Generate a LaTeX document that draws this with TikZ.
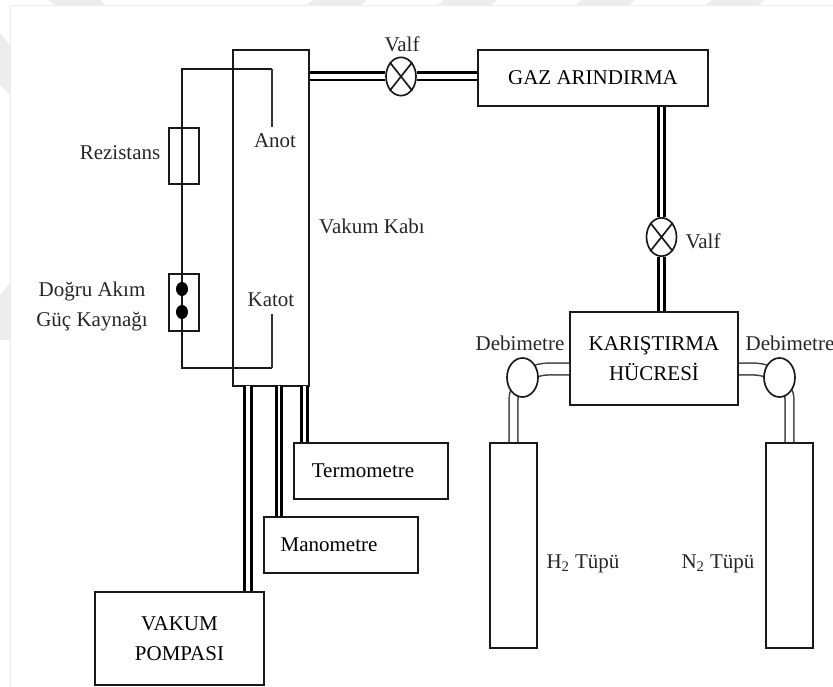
\documentclass[tikz,border=0pt]{standalone}
\usepackage{fontspec}
\setmainfont{Liberation Serif}
\usetikzlibrary{shapes.geometric}

\tikzset{
  box/.style={draw=black!90, line width=1.2pt, inner sep=0pt, align=center},
  valve/.style={draw=black!90, line width=1pt, ellipse, inner sep=0pt, fill=white},
  dot/.style={fill=black, ellipse, inner sep=0pt, minimum width=7.2pt, minimum height=8.4pt},
  label/.style={inner sep=4pt, align=center, text=black!85},
  wire/.style={draw=black!90, line width=1pt},
  lead/.style={draw=black!80, line width=.7pt},
  pipe/.style={draw=black, double=white, line width=1.6pt, double distance=#1},
  pipe/.default=1.7pt,
  tubing/.style={draw=black!75, double=white, line width=.9pt, double distance=#1},
}

\begin{document}
\begin{tikzpicture}[x=0.6pt, y=-0.6pt,
  every node/.style={font=\fontsize{12.6}{18}\selectfont}]

\useasboundingbox (0,0) rectangle (833,687);

% Watermark and page edge
\fill[black!7] (48,0) -- (100,0) -- (107,6) -- (55,6) -- cycle
  (313,0) -- (367,0) -- (360,6) -- (305,6) -- cycle
  (444,0) -- (497,0) -- (490,6) -- (436,6) -- cycle
  (582,0) -- (635,0) -- (628,6) -- (574,6) -- cycle
  (712,0) -- (765,0) -- (758,6) -- (704,6) -- cycle
  (0,33) -- (10,45) -- (10,95) -- (0,85) -- cycle
  (10,283) -- (0,295) -- (0,340) -- (10,340) -- cycle;
\draw[black!7, line width=.6pt] (833,6) -- (10,6) -- (10,687);

% Boxes
\node[box, minimum width=45.6pt, minimum height=201.6pt] (vessel) at (271,218) {};
\node[box, minimum width=18pt, minimum height=33.6pt] (resistor) at (184,156) {};
\node[box, minimum width=18pt, minimum height=34.2pt] (supply) at (184,302.5) {};
\node[box, minimum width=138pt, minimum height=33.6pt] (purifier) at (593,78) {GAZ ARINDIRMA};
\node[box, minimum width=100.8pt, minimum height=55.8pt] (mixer) at (654,358.5) {KARIŞTIRMA\\HÜCRESİ};
\node[box, minimum width=28.2pt, minimum height=123pt] (tubeH) at (513.5,545.5) {};
\node[box, minimum width=28.2pt, minimum height=123pt] (tubeN) at (789.5,545.5) {};
\node[box, minimum width=92.4pt, minimum height=33.6pt] (thermo) at (371,471) {Termometre\hspace{9.6pt}};
\node[box, minimum width=92.4pt, minimum height=33.6pt] (mano) at (341,545) {Manometre\hspace{14.4pt}};
\node[box, minimum width=101.4pt, minimum height=55.8pt] (pump) at (179.5,638.5) {VAKUM\\POMPASI};

% Valves
\node[valve, minimum width=18pt, minimum height=23pt] (valveA) at (401,76.5) {};
\node[valve, minimum width=18pt, minimum height=23pt] (valveB) at (661.5,237) {};
\draw[wire] (valveA.north west) -- (valveA.south east) (valveA.north east) -- (valveA.south west);
\draw[wire] (valveB.north west) -- (valveB.south east) (valveB.north east) -- (valveB.south west);

% Labels
\node[label] (valfA) at (402,44) {Valf};
\node[label] (valfB) at (703,241) {Valf};
\node[label] (anot) at (275,141) {Anot};
\node[label] (katot) at (271,300) {Katot};
\node[label] (rezistans) at (120,153) {Rezistans};
\node[label] (kaynak) at (92,306) {Doğru Akım\\Güç Kaynağı};
\node[label] (kap) at (372,226) {Vakum Kabı};
\node[label] (debiLtext) at (520,343) {Debimetre};
\node[label] (debiRtext) at (790,343) {Debimetre};
\node[label] (textH) at (583,564) {H\textsubscript{2} Tüpü};
\node[label] (textN) at (718,564) {N\textsubscript{2} Tüpü};

% Electric circuit
\coordinate (anotTip) at (272,69);
\coordinate (katotTip) at (272,368);
\coordinate (wireTop) at (182,69);
\coordinate (wireLow) at (182,368);
\draw[wire] (anotTip) -- (wireTop) -- (wireLow) -- (katotTip);
\draw[lead] (anotTip) -- (anotTip |- anot.north);
\draw[lead] (katotTip) -- (katotTip |- katot.south);
\node[dot] (poleA) at (182,289) {};
\node[dot] (poleB) at (182,312) {};

% Thick pipes
\draw[pipe=2.8pt] (valveA.west) -- (vessel.east |- valveA.west);
\draw[pipe=2.8pt] (valveA.east) -- (purifier.west |- valveA.east);
\draw[pipe] (valveB.north) -- (valveB.north |- purifier.south);
\draw[pipe] (valveB.south) -- (valveB.south |- mixer.north);

% Pipes under the vessel
\coordinate (pumpTop) at (248,386);
\coordinate (manoTop) at (279,386);
\coordinate (thermoTop) at (304.5,386);
\draw[pipe=2.4pt] (pumpTop) -- (pumpTop |- pump.north);
\draw[pipe] (manoTop) -- (manoTop |- mano.north);
\draw[pipe] (thermoTop) -- (thermoTop |- thermo.north);

% Flow meters and their tubing
\coordinate (debiL) at (522.5,377.5);
\coordinate (debiR) at (779.5,377.5);
\coordinate (bendLa) at (550,369);
\coordinate (bendRa) at (752,369);
\coordinate (bendLb) at (513.5,400);
\coordinate (bendRb) at (789.5,400);
\draw[tubing=6.2pt] (mixer.west |- bendLa) -- (bendLa) to[out=180, in=30] (debiL);
\draw[tubing=6.2pt] (mixer.east |- bendRa) -- (bendRa) to[out=0, in=150] (debiR);
\draw[tubing=4.4pt] (tubeH.north) -- (bendLb) to[out=90, in=-120] (debiL);
\draw[tubing=4.4pt] (tubeN.north) -- (bendRb) to[out=90, in=-60] (debiR);
\node[valve, minimum width=18.6pt, minimum height=23.4pt] (meterL) at (debiL) {};
\node[valve, minimum width=18.6pt, minimum height=23.4pt] (meterR) at (debiR) {};

\end{tikzpicture}
\end{document}
